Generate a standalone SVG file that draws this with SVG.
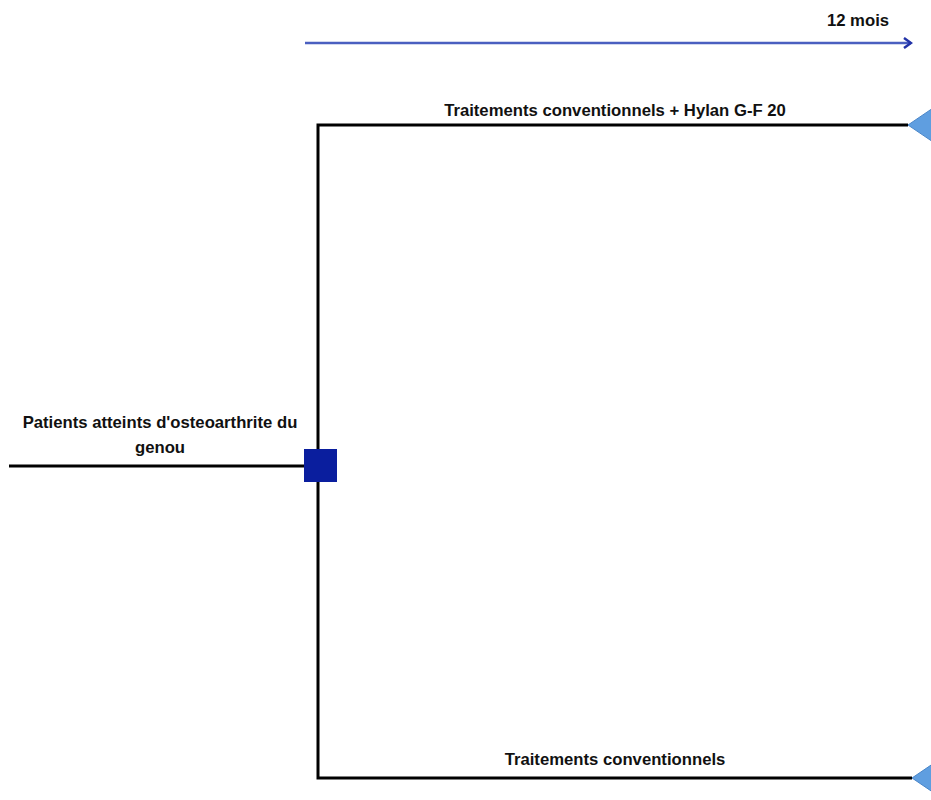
<svg xmlns="http://www.w3.org/2000/svg" width="931" height="800" viewBox="0 0 931 800">
<style>
.lbl{font-family:"Liberation Sans",Arial,sans-serif;font-weight:bold;font-size:16.7px;fill:#111;text-anchor:middle}
.ln{stroke:#000;stroke-width:3;fill:none}
.term{fill:#5f9ee0;stroke:#4a86c8;stroke-width:1}
</style>
<defs>
<marker id="chev" markerWidth="10" markerHeight="12" refX="8" refY="6" orient="auto" markerUnits="userSpaceOnUse">
<path d="M1,1 L8,6 L1,11" fill="none" stroke="#2233a8" stroke-width="2.5"/>
</marker>
</defs>
<g id="timeline">
<line x1="305" y1="43" x2="911" y2="43" stroke="#4a5fc0" stroke-width="2.5" marker-end="url(#chev)"/>
<text class="lbl" x="858" y="26">12 mois</text>
</g>
<g id="connectors">
<line class="ln" x1="9" y1="466" x2="306" y2="466"/>
<polyline class="ln" points="908,125 318,125 318,778 912,778"/>
</g>
<g id="decision">
<rect x="304" y="449" width="33" height="33" fill="#0a1e9e"/>
<text class="lbl" x="160" y="428">Patients atteints d'osteoarthrite du</text>
<text class="lbl" x="160" y="453">genou</text>
</g>
<g id="branch-top">
<text class="lbl" x="615" y="116">Traitements conventionnels + Hylan G-F 20</text>
<polygon class="term" points="908,125 936,106 936,144"/>
</g>
<g id="branch-bottom">
<text class="lbl" x="615" y="765">Traitements conventionnels</text>
<polygon class="term" points="912,778 940,759 940,797"/>
</g>
</svg>
